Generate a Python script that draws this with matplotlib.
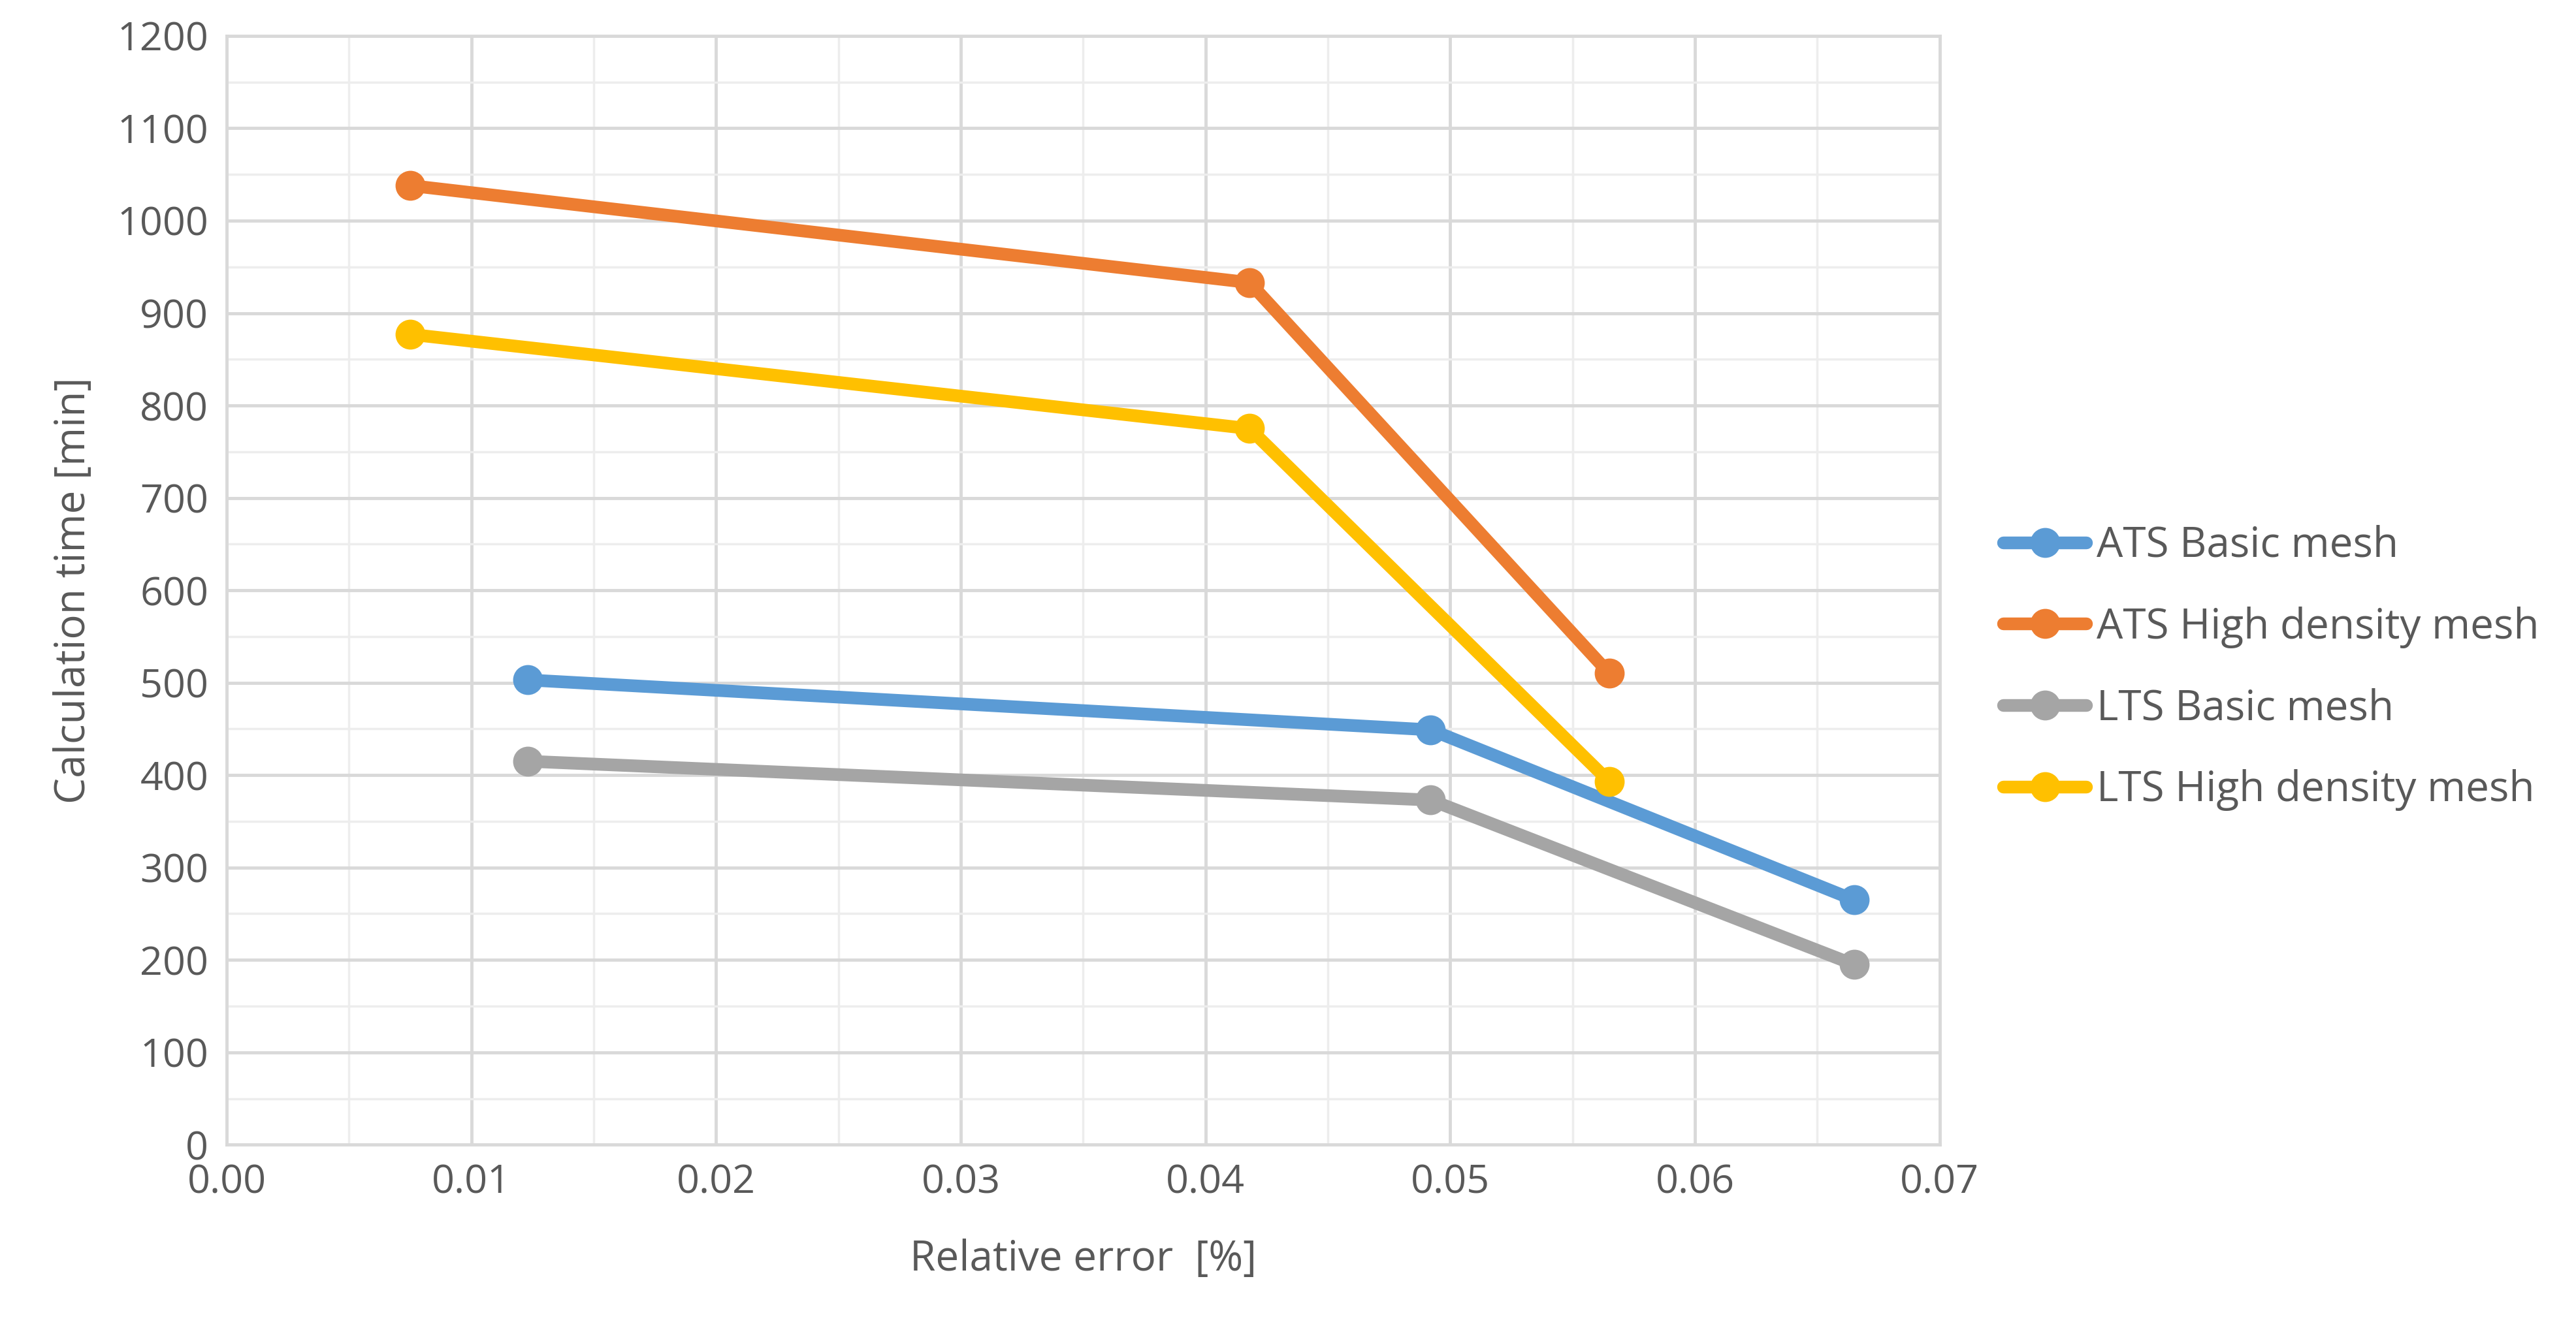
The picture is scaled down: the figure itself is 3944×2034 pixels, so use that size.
import matplotlib.pyplot as plt
import numpy as np

plt.rcParams['font.family'] = ['Open Sans', 'DejaVu Sans']

ats_basic_x = [0.0123, 0.0492, 0.0665]
ats_basic_y = [503, 449, 265]
ats_high_x = [0.0075, 0.0418, 0.0565]
ats_high_y = [1038, 933, 510]
lts_basic_x = [0.0123, 0.0492, 0.0665]
lts_basic_y = [415, 373, 195]
lts_high_x = [0.0075, 0.0418, 0.0565]
lts_high_y = [877, 775, 393]

series = [
    ("ATS Basic mesh", ats_basic_x, ats_basic_y, "#5B9BD5"),
    ("ATS High density mesh", ats_high_x, ats_high_y, "#ED7D31"),
    ("LTS Basic mesh", lts_basic_x, lts_basic_y, "#A5A5A5"),
    ("LTS High density mesh", lts_high_x, lts_high_y, "#FFC000"),
]

fig = plt.figure(figsize=(39.44, 20.34), dpi=100)
ax = fig.add_axes([0.088, 0.138, 0.665, 0.835])

for name, x, y, c in series:
    ax.plot(x, y, color=c, lw=14, marker='o', ms=32, label=name, solid_capstyle='round')

ax.set_xlim(0, 0.07)
ax.set_ylim(0, 1200)
ax.set_xticks(np.arange(0, 0.0701, 0.01))
ax.set_xticklabels([f"{v:.2f}" for v in np.arange(0, 0.0701, 0.01)])
ax.set_yticks(np.arange(0, 1201, 100))
ax.set_xticks(np.arange(0, 0.0701, 0.005), minor=True)
ax.set_yticks(np.arange(0, 1201, 50), minor=True)
ax.grid(which='major', color='#D9D9D9', lw=3.5)
ax.grid(which='minor', color='#EDEDED', lw=2.5)
ax.tick_params(which='both', length=0, labelsize=44, colors='#595959', pad=20)
for s in ax.spines.values():
    s.set_color('#D9D9D9')
    s.set_linewidth(3.5)
ax.set_axisbelow(True)

ax.set_xlabel("Relative error  [%]", fontsize=46, color='#595959', labelpad=40)
ax.set_ylabel("Calculation time [min]", fontsize=46, color='#595959', labelpad=25)

ax.legend(loc='center left', bbox_to_anchor=(1.015, 0.43), frameon=False,
          fontsize=46, labelcolor='#595959', handlelength=2.0, labelspacing=0.95,
          handletextpad=0.25)

fig.savefig("out.png", dpi=100)
